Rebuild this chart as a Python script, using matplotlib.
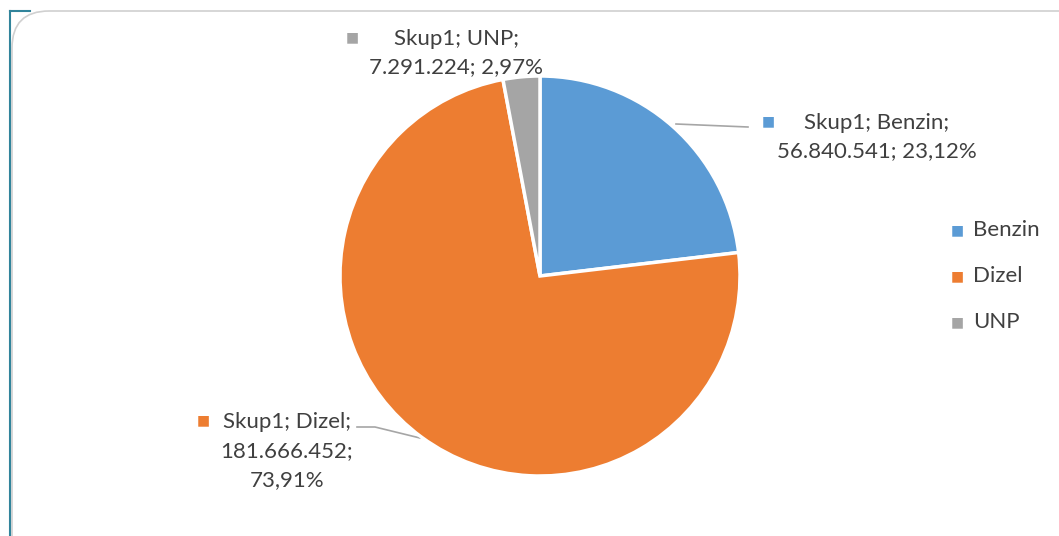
import matplotlib.pyplot as plt
from matplotlib.patches import FancyBboxPatch
from matplotlib.lines import Line2D

# --------------------------------------------------
# Data
# --------------------------------------------------

categories = ["Benzin", "Dizel", "UNP"]
values = [56840541, 181666452, 7291224]
label_texts = [
    "Skup1; Benzin;\n56.840.541; 23,12%",
    "Skup1; Dizel;\n181.666.452;\n73,91%",
    "Skup1; UNP;\n7.291.224; 2,97%",
]
colors = ["#5B9BD5", "#ED7D31", "#A5A5A5"]

TEXT_COLOR = "#404040"
W, H = 1059, 536

plt.rcParams["font.family"] = ["Lato", "DejaVu Sans"]

fig = plt.figure(figsize=(W / 100, H / 100), dpi=100)


def fx(x):
    return x / W


def fy(y):
    return 1 - y / H


# --------------------------------------------------
# Frame
# --------------------------------------------------

frame = FancyBboxPatch(
    (fx(12), fy(580)), fx(1100), 569 / H,
    boxstyle="round,pad=0,rounding_size=0.035",
    transform=fig.transFigure,
    facecolor="white", edgecolor="#D0D0D0", linewidth=1.2,
    mutation_aspect=W / H, zorder=-5,
)
fig.patches.append(frame)
fig.add_artist(Line2D([fx(10), fx(10)], [fy(11), fy(540)],
                      color="#31849B", linewidth=1.5))
fig.add_artist(Line2D([fx(10), fx(30)], [fy(11), fy(11)],
                      color="#31849B", linewidth=1.5))

# --------------------------------------------------
# Pie
# --------------------------------------------------

ax = fig.add_axes([fx(340), fy(476), fx(400), 400 / H], zorder=2)
ax.pie(
    values,
    colors=colors,
    startangle=90,
    counterclock=False,
    wedgeprops=dict(edgecolor="white", linewidth=2.5),
)
ax.set_aspect("equal")
ax.set_xlim(-1, 1)
ax.set_ylim(-1, 1)
ax.axis("off")

# --------------------------------------------------
# Data labels
# --------------------------------------------------

label_pos = [(877, 137), (287, 451), (456, 53)]
marker_pos = [(768, 121), (203, 420), (352, 37)]

for text, (x, y), (mx, my), c in zip(label_texts, label_pos, marker_pos, colors):
    fig.text(fx(x), fy(y), text, ha="center", va="center", fontsize=16,
             color=TEXT_COLOR, linespacing=1.55)
    fig.text(fx(mx), fy(my), "\u25A0", ha="center", va="center",
             fontsize=10, color=c, family="DejaVu Sans")

# leader lines
fig.add_artist(Line2D([fx(676), fx(748)], [fy(124), fy(127)],
                      color="#A6A6A6", linewidth=1.2))
fig.add_artist(Line2D([fx(357), fx(375), fx(420)], [fy(427), fy(427), fy(438)],
                      color="#A6A6A6", linewidth=1.2))

# --------------------------------------------------
# Legend
# --------------------------------------------------

for i, (name, c) in enumerate(zip(categories, colors)):
    y = 230 + i * 46
    fig.text(fx(957), fy(y), "\u25A0", ha="center", va="center",
             fontsize=10, color=c, family="DejaVu Sans")
    fig.text(fx(973), fy(y), name, ha="left", va="center",
             fontsize=16, color=TEXT_COLOR)

fig.savefig("out.png", dpi=100)
